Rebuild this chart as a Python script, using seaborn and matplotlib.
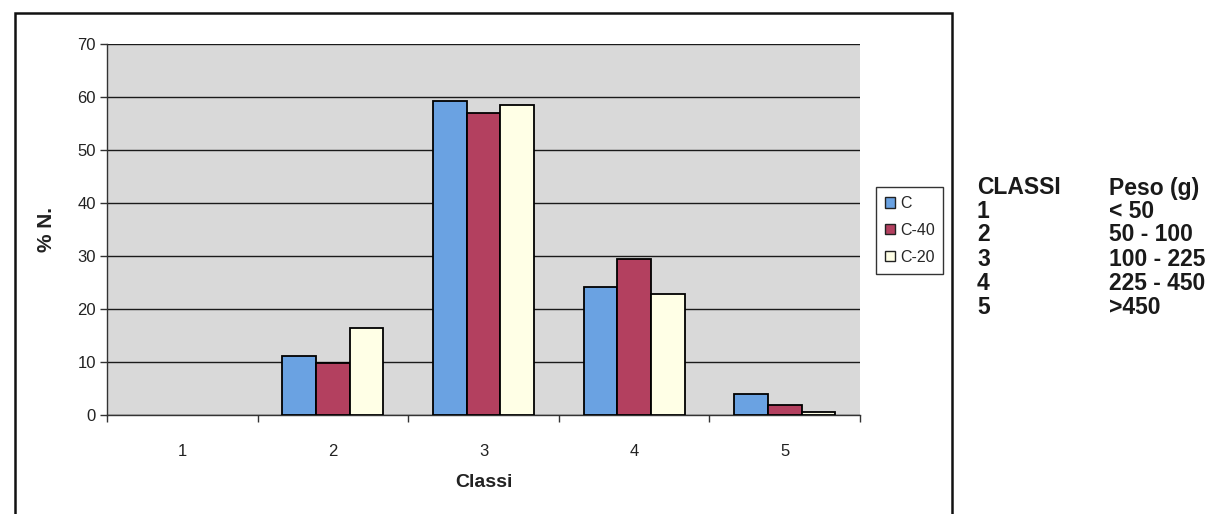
import matplotlib
matplotlib.use("Agg")
import matplotlib.pyplot as plt
from matplotlib.patches import Rectangle, Patch
import seaborn as sns
import pandas as pd

# Weight classes and percentage of fish per class for each treatment
classes = ["1", "2", "3", "4", "5"]
series_names = ["C", "C-40", "C-20"]
pct_C = [0.0, 11.1, 59.2, 24.2, 3.9]
pct_C40 = [0.0, 9.8, 57.0, 29.5, 1.9]
pct_C20 = [0.0, 16.4, 58.5, 22.8, 0.6]

# Weight ranges of the classes
class_labels = ["1", "2", "3", "4", "5"]
weight_ranges = ["< 50", "50 - 100", "100 - 225", "225 - 450", ">450"]

colors = ["#6aa2e2", "#b3405f", "#ffffe6"]

df = pd.DataFrame({
    "Classi": classes * 3,
    "serie": [s for s in series_names for _ in classes],
    "pct": pct_C + pct_C40 + pct_C20,
})

sns.set_style("white")
plt.rcParams["font.family"] = ["Liberation Sans", "DejaVu Sans"]

W, H = 1223, 514
fig = plt.figure(figsize=(W / 100, H / 100), dpi=100)
fig.patch.set_facecolor("white")

ax = fig.add_axes([107 / W, 1 - 415 / H, 753 / W, 371 / H])
ax.set_facecolor("#d9d9d9")

sns.barplot(data=df, x="Classi", y="pct", hue="serie", order=classes,
            hue_order=series_names, palette=colors, width=0.67,
            edgecolor="black", linewidth=1.3, saturation=1, ax=ax, zorder=3,
            legend=False)

# Empty classes show no bar outline
for bar in ax.patches:
    if bar.get_height() == 0:
        bar.set_visible(False)

ax.set_ylim(0, 70)
ax.set_xlim(-0.5, 4.5)
ax.set_yticks(range(0, 71, 10))
ax.yaxis.grid(True, color="#1a1a1a", linewidth=1.0, zorder=1)
ax.set_axisbelow(True)

for side in ["top", "right"]:
    ax.spines[side].set_visible(False)
for side in ["left", "bottom"]:
    ax.spines[side].set_color("#333333")
    ax.spines[side].set_linewidth(1.0)

ax.tick_params(axis="y", which="major", direction="out", length=5, width=1,
               color="#333333", labelsize=12, labelcolor="#222222", pad=3, left=True)
ax.tick_params(axis="x", which="major", length=0, labelsize=12,
               labelcolor="#222222", pad=21)
ax.set_xticks(
    [i - 0.5 for i in range(len(classes) + 1)], minor=True)
ax.tick_params(axis="x", which="minor", direction="out", length=5, width=1,
               color="#333333", bottom=True)

ax.set_xlabel("Classi", fontsize=14, fontweight="bold", color="#222222")
ax.xaxis.set_label_coords(0.5, -0.16)
ax.set_ylabel("% N.", fontsize=15, fontweight="bold", color="#222222")
ax.yaxis.set_label_coords(-0.068, 0.5)

handles = [Patch(facecolor=c, edgecolor="#222222", linewidth=1.0, label=n)
           for c, n in zip(colors, series_names)]
leg = ax.legend(handles=handles, loc="upper left",
                bbox_to_anchor=(876 / W, 1 - 187 / H), bbox_transform=fig.transFigure,
                frameon=True, fancybox=False, edgecolor="#333333", framealpha=1,
                fontsize=11.5, handlelength=0.65, handleheight=0.65, handletextpad=0.3,
                labelspacing=0.75, borderpad=0.55, borderaxespad=0)
leg.get_frame().set_linewidth(1.0)

# Outer chart frame (bottom edge runs past the image border)
fig.patches.append(Rectangle((15 / W, -0.02), (952 - 15) / W, 1 - 13 / H + 0.02,
                             transform=fig.transFigure, fill=False,
                             edgecolor="#111111", linewidth=1.8))

# Class / weight table to the right of the chart
row_y = [188, 212, 235, 259, 283, 307]
for y, c, w in zip(row_y, ["CLASSI"] + class_labels, ["Peso (g)"] + weight_ranges):
    fig.text(977 / W, 1 - y / H, c, fontsize=16.5, fontweight="bold",
             color="#1a1a1a", va="center", ha="left")
    fig.text(1109 / W, 1 - y / H, w, fontsize=16.5, fontweight="bold",
             color="#1a1a1a", va="center", ha="left")

fig.savefig("out.png", dpi=100)
